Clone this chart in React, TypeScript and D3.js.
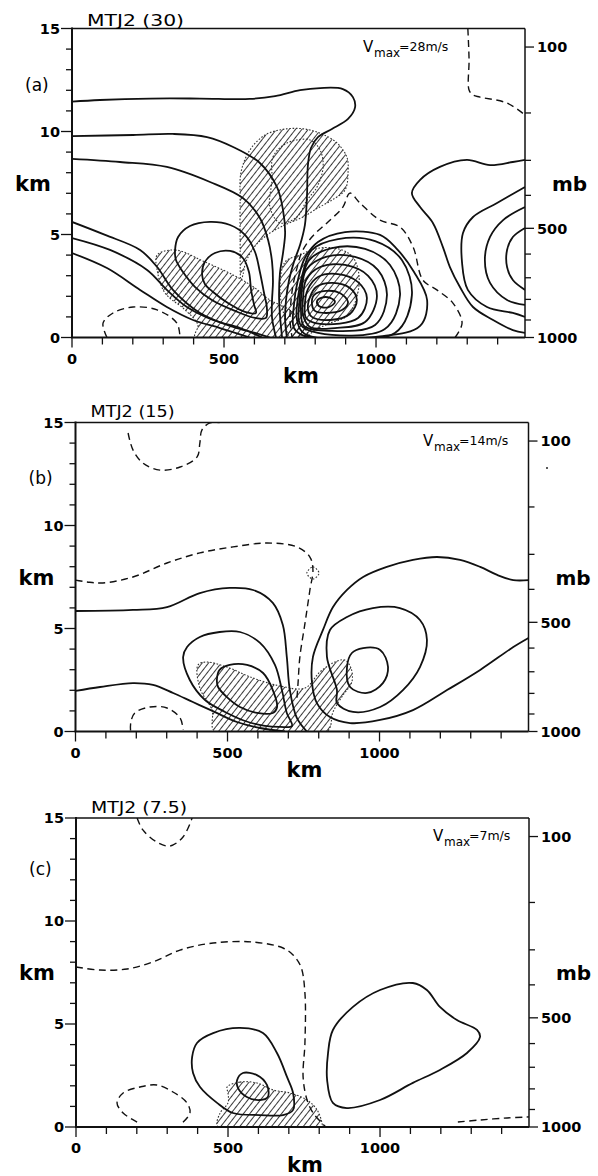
import React from 'react';
import * as d3 from 'd3';

type P = [number, number];

// ---------- axes ----------
const kmTicks = [0, 100, 200, 300, 400, 500, 600, 700, 800, 900, 1000, 1100, 1200, 1300, 1400];
const kmLabels = [0, 500, 1000];
const zTicks = [0, 1, 2, 3, 4, 5, 6, 7, 8, 9, 10, 11, 12, 13, 14, 15];
const zLabels = [0, 5, 10, 15];
const mbLevels = [100, 200, 300, 400, 500, 600, 700, 800, 900, 1000];
const mbHeightKm = [14.1, 10.9, 8.6, 6.9, 5.3, 4.05, 2.9, 1.85, 0.85, 0];
const mbLabels = [100, 500, 1000];

const panelTitles = ['MTJ2 (30)', 'MTJ2 (15)', 'MTJ2 (7.5)'];
const panelLetters = ['(a)', '(b)', '(c)'];
const vmaxValues = ['=28m/s', '=14m/s', '=7m/s'];

// ---------- panel (a) ----------
const a_solid1: P[] = [[0,11.45],[92,11.53],[257,11.6],[421,11.6],[585,11.58],[668,11.72],[750,12.01],[816,12.11],[891,12.06],[924,11.67],[931,11.17],[908,10.61],[855,10.12],[809,9.73],[786,9.2],[776,8.37],[773,6.92],[766,5.46],[750,4.49],[730,3.67],[714,2.79],[704,1.82],[701,0.85],[707,0]];
const a_solid2: P[] = [[0,9.78],[201,9.83],[332,9.88],[444,9.73],[530,9.25],[618,8.47],[674,7.31],[694,6.19],[701,5.07],[694,4.1],[684,3.13],[681,2.06],[684,1.09],[691,0]];
const a_solid3: P[] = [[0,8.67],[158,8.52],[312,8.28],[454,7.55],[562,6.77],[618,5.8],[645,4.73],[658,3.67],[661,2.69],[658,1.82],[658,0.95],[671,0]];
const a_u1: P[] = [[339,4.25],[349,4.88],[388,5.41],[454,5.61],[520,5.46],[569,4.98],[602,4.15],[618,3.18],[631,2.21],[641,1.43],[638,0.95],[602,0.95],[536,1.29],[460,1.82],[405,2.45],[365,3.18],[342,3.76]];
const a_u2: P[] = [[428,3.03],[437,3.67],[470,4.1],[520,4.2],[562,3.86],[582,3.18],[589,2.31],[599,1.58],[605,1.19],[569,1.24],[513,1.67],[464,2.21],[437,2.6]];
const a_s1: P[] = [[0,5.61],[109,4.98],[224,4.25],[280,3.42],[332,2.31],[421,1.19],[530,0.51],[602,0.22],[651,0]];
const a_s2: P[] = [[0,4.83],[125,4.25],[247,3.28],[312,2.31],[378,1.48],[464,0.85],[553,0.46],[625,0]];
const a_s3: P[] = [[0,4.1],[115,3.37],[224,2.31],[312,1.48],[398,0.85],[487,0.46],[585,0]];
const a_e1: P[] = [[865,1.72],[849,1.92],[822,1.94],[806,1.77],[812,1.53],[842,1.46]];
const a_e2: P[] = [[908,1.72],[881,2.16],[835,2.26],[796,2.06],[789,1.67],[799,1.29],[835,1.19],[888,1.33]];
const a_e3: P[] = [[937,1.82],[914,2.4],[858,2.65],[803,2.45],[783,1.97],[776,1.38],[789,1.0],[849,0.85],[914,1.14]];
const a_e4: P[] = [[970,1.92],[941,2.69],[875,3.08],[809,2.94],[776,2.35],[766,1.63],[770,0.95],[816,0.66],[941,0.95]];
const a_e5: P[] = [[1003,2.01],[974,2.99],[898,3.52],[816,3.42],[770,2.79],[760,1.92],[760,1.09],[783,0.51],[865,0.46],[964,0.75]];
const a_e6: P[] = [[1036,2.06],[1006,3.28],[931,3.91],[835,3.91],[770,3.28],[756,2.31],[753,1.33],[763,0.56],[849,0.32],[997,0.61]];
const a_e7: P[] = [[1079,2.06],[1046,3.52],[964,4.3],[855,4.34],[780,3.76],[756,2.69],[747,1.58],[750,0.66],[809,0.22],[1029,0.41]];
const a_e8: P[] = [[1118,2.06],[1085,3.76],[997,4.68],[875,4.78],[789,4.25],[760,3.18],[743,1.92],[740,0.85],[766,0.17],[1062,0.22]];
const a_e9: P[] = [[1168,1.82],[1125,3.18],[1066,4.34],[1013,4.98],[898,5.12],[809,4.64],[766,3.86],[743,2.79],[730,1.58],[730,0.46],[766,0.07],[1013,0.05],[1145,0.56]];
const a_r1: P[] = [[1490,8.62],[1450,8.52],[1375,8.37],[1299,8.62],[1210,8.28],[1145,7.65],[1118,7.01],[1145,6.33],[1187,5.56],[1220,4.39],[1243,3.42],[1276,2.45],[1319,1.48],[1385,0.85],[1450,0.36],[1490,0.22]];
const a_r2: P[] = [[1490,7.31],[1398,6.53],[1319,5.85],[1286,5.07],[1283,3.62],[1302,2.31],[1365,1.48],[1450,1.19],[1490,1.0]];
const a_r3: P[] = [[1490,6.33],[1418,5.7],[1375,4.88],[1358,3.76],[1375,2.65],[1431,1.82],[1490,1.58]];
const a_r4: P[] = [[1490,5.32],[1450,4.88],[1431,4.25],[1431,3.42],[1450,2.79],[1490,2.31]];
const a_dash0: P[] = [[1260,0],[1283,0.7],[1253,1.67],[1200,2.31],[1154,2.79],[1122,4.39],[1079,5.36],[1013,5.7],[947,6.53],[914,7.01],[891,6.33],[842,5.61],[789,4.88],[756,4.15],[740,3.37],[727,2.55],[720,1.72],[717,0.85],[724,0]];
const a_dashTop: P[] = [[1302,15],[1306,13.5],[1306,12.01],[1319,11.77],[1342,11.67],[1431,11.38],[1490,10.8]];
const a_dashLow: P[] = [[115,0],[102,0.7],[135,1.19],[201,1.48],[280,1.34],[345,0.7],[355,0]];
const a_hatch1: P[] = [[556,2.79],[553,4.73],[553,6.67],[556,8.03],[585,9.1],[635,9.83],[701,10.12],[766,10.12],[822,9.88],[872,9.44],[904,8.76],[908,7.99],[898,7.16],[855,6.67],[809,6.29],[760,5.85],[707,5.51],[651,5.07],[602,4.44],[572,3.67],[562,3.03]];
const a_hatch1in: P[] = [[658,7.65],[661,8.76],[707,9.44],[783,9.59],[816,9.1],[826,8.28],[806,7.31],[773,6.67],[740,5.85],[684,5.56],[651,6.33]];
const a_hatch2: P[] = [[280,4.0],[339,4.25],[437,3.67],[536,2.99],[602,2.4],[651,1.82],[717,1.33],[750,0.75],[776,0],[405,0],[414,0.61],[372,1.34],[306,2.16],[280,3.28]];
const a_hatch3: P[] = [[701,3.67],[750,4.0],[799,4.3],[865,4.34],[921,3.95],[944,3.03],[934,1.82],[904,1.04],[849,0.7],[799,0.36],[766,0],[717,0],[701,0.85],[684,2.31]];

// ---------- panel (b) ----------
const b_dashTop: P[] = [[173,14.49],[189,13.67],[222,13.03],[278,12.69],[344,12.84],[400,13.33],[409,14.0],[416,14.64],[442,14.98],[474,15]];
const b_dashLong: P[] = [[0,7.35],[38,7.26],[90,7.21],[189,7.5],[301,8.18],[409,8.67],[518,8.96],[630,9.15],[728,8.96],[771,8.47],[781,7.84],[771,6.87],[755,5.27],[738,3.62],[732,2.35],[728,1.53]];
const b_dashRing: P[] = [[761,7.69],[781,7.99],[801,7.69],[781,7.4]];
const b_dashLow: P[] = [[181,0.05],[182,0.45],[195,0.9],[245,1.19],[301,1.14],[344,0.66],[354,0.07]];
const b_s1: P[] = [[0,5.85],[189,5.9],[301,6.04],[409,6.72],[507,6.97],[584,6.87],[649,6.24],[682,5.17],[695,3.62],[705,2.01],[728,0.66],[761,0]];
const b_s2: P[] = [[0,1.97],[81,2.16],[189,2.35],[255,2.26],[321,1.87],[386,1.43],[452,0.99],[531,0.46],[607,0.17],[689,0]];
const b_s3: P[] = [[354,3.62],[367,4.1],[409,4.59],[474,4.83],[541,4.83],[607,4.3],[656,3.23],[679,2.01],[695,0.9],[712,0.27],[673,0.22],[623,0.27],[558,0.51],[492,0.95],[426,1.53],[376,2.5]];
const b_s4: P[] = [[465,2.5],[474,2.99],[507,3.23],[564,3.23],[617,2.84],[649,2.01],[663,1.19],[649,0.9],[597,0.9],[541,1.19],[498,1.67],[469,2.16]];
const b_r1: P[] = [[1490,7.35],[1440,7.35],[1387,7.6],[1331,7.99],[1265,8.33],[1189,8.47],[1110,8.33],[1024,7.99],[946,7.5],[893,6.87],[847,6.04],[814,4.93],[781,3.62],[778,2.35],[794,1.38],[837,0.7],[903,0.41],[1002,0.56],[1110,1.04],[1222,2.01],[1331,2.99],[1440,4.1],[1490,4.54]];
const b_r2: P[] = [[860,2.01],[827,3.62],[837,4.93],[893,5.56],[978,5.99],[1067,5.99],[1133,5.41],[1156,4.44],[1133,3.13],[1077,2.01],[1002,1.19],[913,0.95],[860,1.38]];
const b_r3: P[] = [[893,3.13],[909,3.81],[946,4.05],[1002,3.96],[1028,3.13],[1011,2.35],[959,1.87],[903,2.16]];
const b_hatch: P[] = [[403,3.23],[432,3.37],[507,3.08],[574,2.65],[673,2.21],[755,2.11],[804,2.89],[853,3.37],[886,3.47],[906,3.08],[909,2.4],[880,1.77],[847,0.95],[827,0],[458,0],[449,1.04],[409,2.11]];

// ---------- panel (c) ----------
const c_dashTop: P[] = [[201,15],[220,14.42],[266,13.83],[309,13.64],[352,14.08],[382,15]];
const c_dashLong: P[] = [[0,7.77],[79,7.62],[168,7.67],[253,8.01],[342,8.59],[451,8.93],[582,8.98],[681,8.69],[714,8.35],[740,7.77],[753,6.5],[753,4.08],[747,2.43],[760,1.31],[780,0.68],[809,0.19],[822,0]];
const c_dashLow: P[] = [[201,0.24],[155,0.68],[135,1.17],[155,1.65],[210,1.94],[266,2.04],[319,1.7],[365,1.17],[375,0.68],[349,0.19]];
const c_dashRight: P[] = [[1256,0.24],[1329,0.34],[1418,0.44],[1490,0.49]];
const c_s1: P[] = [[382,3.4],[398,4.08],[451,4.56],[539,4.81],[615,4.56],[661,3.59],[694,2.43],[714,1.65],[714,0.83],[681,0.58],[605,0.58],[516,0.68],[464,1.17],[408,1.94],[385,2.62]];
const c_s2: P[] = [[530,2.28],[549,2.62],[595,2.52],[628,2.04],[631,1.46],[605,1.31],[562,1.46],[533,1.89]];
const c_s3: P[] = [[845,4.71],[911,5.83],[1000,6.65],[1108,6.99],[1154,6.65],[1197,5.83],[1253,5.19],[1319,4.71],[1329,4.37],[1286,3.59],[1197,2.77],[1108,2.14],[1000,1.31],[891,0.92],[845,1.17],[826,2.28],[829,3.59]];
const c_hatch: P[] = [[497,1.94],[539,2.18],[595,2.14],[648,1.8],[704,1.65],[760,1.31],[793,0.83],[809,0.19],[809,0],[467,0],[474,0.68],[500,1.17],[500,1.65]];

type Kind = 'solid' | 'dashed' | 'dot';
type C = { pts: P[]; kind: Kind; closed?: boolean; hatch?: boolean };

const panelA: C[] = [
  { pts: a_hatch1, kind: 'dot', closed: true, hatch: true },
  { pts: a_hatch2, kind: 'dot', closed: true, hatch: true },
  { pts: a_hatch3, kind: 'dot', closed: true, hatch: true },
  { pts: a_hatch1in, kind: 'dot', closed: true },
  { pts: a_solid1, kind: 'solid' }, { pts: a_solid2, kind: 'solid' }, { pts: a_solid3, kind: 'solid' },
  { pts: a_u1, kind: 'solid', closed: true }, { pts: a_u2, kind: 'solid', closed: true },
  { pts: a_s1, kind: 'solid' }, { pts: a_s2, kind: 'solid' }, { pts: a_s3, kind: 'solid' },
  { pts: a_e1, kind: 'solid', closed: true }, { pts: a_e2, kind: 'solid', closed: true },
  { pts: a_e3, kind: 'solid', closed: true }, { pts: a_e4, kind: 'solid', closed: true },
  { pts: a_e5, kind: 'solid', closed: true }, { pts: a_e6, kind: 'solid', closed: true },
  { pts: a_e7, kind: 'solid', closed: true }, { pts: a_e8, kind: 'solid', closed: true },
  { pts: a_e9, kind: 'solid', closed: true },
  { pts: a_r1, kind: 'solid' }, { pts: a_r2, kind: 'solid' }, { pts: a_r3, kind: 'solid' }, { pts: a_r4, kind: 'solid' },
  { pts: a_dash0, kind: 'dashed' }, { pts: a_dashTop, kind: 'dashed' }, { pts: a_dashLow, kind: 'dashed' },
];
const panelB: C[] = [
  { pts: b_hatch, kind: 'dot', closed: true, hatch: true },
  { pts: b_dashTop, kind: 'dashed' }, { pts: b_dashLong, kind: 'dashed' },
  { pts: b_dashRing, kind: 'dot', closed: true }, { pts: b_dashLow, kind: 'dashed' },
  { pts: b_s1, kind: 'solid' }, { pts: b_s2, kind: 'solid' },
  { pts: b_s3, kind: 'solid', closed: true }, { pts: b_s4, kind: 'solid', closed: true },
  { pts: b_r1, kind: 'solid' }, { pts: b_r2, kind: 'solid', closed: true }, { pts: b_r3, kind: 'solid', closed: true },
];
const panelC: C[] = [
  { pts: c_hatch, kind: 'dot', closed: true, hatch: true },
  { pts: c_dashTop, kind: 'dashed' }, { pts: c_dashLong, kind: 'dashed' },
  { pts: c_dashLow, kind: 'dashed' }, { pts: c_dashRight, kind: 'dashed' },
  { pts: c_s1, kind: 'solid', closed: true }, { pts: c_s2, kind: 'solid', closed: true },
  { pts: c_s3, kind: 'solid', closed: true },
];
const panelContours = [panelA, panelB, panelC];

// layout (pixels)
const PW = 453, PH = 309;
const layout = [
  { left: 72, top: 28.5, titleDy: -2.5, titleW: 97, letterDy: 62.5, vmaxX: 363 },
  { left: 75.5, top: 422.5, titleDy: -5.5, titleW: 84, letterDy: 61.5, vmaxX: 423 },
  { left: 76, top: 818, titleDy: -5, titleW: 96, letterDy: 57, vmaxX: 433 },
];

const FONT = '"DejaVu Sans", "Open Sans", sans-serif';

function Panel({ i }: { i: number }) {
  const L = layout[i];
  const x = d3.scaleLinear().domain([0, 1490]).range([L.left, L.left + PW]);
  const y = d3.scaleLinear().domain([0, 15]).range([L.top + PH, L.top]);
  const x0 = L.left, x1 = L.left + PW, y0 = L.top + PH, y1 = L.top;
  const clipId = `clip${i}`;
  const path = (c: C) =>
    d3.line<P>().x(d => x(d[0])).y(d => y(d[1]))
      .curve(c.closed ? d3.curveCatmullRomClosed.alpha(0.5) : d3.curveCatmullRom.alpha(0.5))(c.pts) || '';
  const conts = panelContours[i];
  return (
    <g>
      <defs>
        <clipPath id={clipId}><rect x={x0} y={y1} width={PW} height={PH} /></clipPath>
      </defs>
      <g clipPath={`url(#${clipId})`}>
        {conts.filter(c => c.hatch).map((c, k) => (
          <path key={'h' + k} d={path(c)} fill="url(#hatch)" stroke="none" />
        ))}
        {conts.map((c, k) => (
          <path key={k} d={path(c)} fill="none"
            stroke={c.kind === 'dot' ? '#333' : '#111'}
            strokeWidth={c.kind === 'solid' ? 1.8 : c.kind === 'dashed' ? 1.4 : 1.1}
            strokeDasharray={c.kind === 'dashed' ? '7 4.5' : c.kind === 'dot' ? '1.6 1.7' : undefined}
            strokeLinejoin="round" />
        ))}
      </g>
      {/* frame */}
      <line x1={x0} y1={y1} x2={x1} y2={y1} stroke="#111" strokeWidth={1.4} />
      <line x1={x1} y1={y1} x2={x1} y2={y0} stroke="#111" strokeWidth={1.5} />
      <line x1={x0} y1={y1 - 1} x2={x0} y2={y0} stroke="#111" strokeWidth={2} />
      <line x1={x0 - 1} y1={y0} x2={x1} y2={y0} stroke="#111" strokeWidth={2} />
      {/* left ticks */}
      {zTicks.map(t => {
        const major = zLabels.includes(t);
        return <line key={'zt' + t} x1={x0} x2={x0 - (major ? 11 : 6)} y1={y(t)} y2={y(t)} stroke="#111" strokeWidth={1.3} />;
      })}
      {zLabels.map(t => (
        <text key={'zl' + t} x={x0 - 12} y={y(t)} dy="0.36em" textAnchor="end"
          fontFamily={FONT} fontWeight="bold" fontSize={14.5}>{t}</text>
      ))}
      {/* bottom ticks */}
      {kmTicks.map(t => {
        const major = kmLabels.includes(t);
        return <line key={'xt' + t} x1={x(t)} x2={x(t)} y1={y0} y2={y0 + (major ? 10 : 7)} stroke="#111" strokeWidth={1.3} />;
      })}
      {kmLabels.map(t => (
        <text key={'xl' + t} x={x(t)} y={y0 + 26} textAnchor="middle"
          fontFamily={FONT} fontWeight="bold" fontSize={14.5}>{t}</text>
      ))}
      {/* right pressure ticks */}
      {mbLevels.map((p, k) => {
        const lab = mbLabels.includes(p);
        return <line key={'pt' + p} x1={x1} x2={x1 + (lab ? 9 : 6)} y1={y(mbHeightKm[k])} y2={y(mbHeightKm[k])} stroke="#111" strokeWidth={1.3} />;
      })}
      {mbLevels.map((p, k) => mbLabels.includes(p) ? (
        <text key={'pl' + p} x={x1 + 12} y={y(mbHeightKm[k])} dy="0.36em"
          fontFamily={FONT} fontWeight="bold" fontSize={14.5}>{p}</text>
      ) : null)}
      {/* axis titles */}
      <text x={x0 - 57} y={y1 + 162} fontFamily={FONT} fontWeight="bold" fontSize={21}>km</text>
      <text x={x1 + 27} y={y1 + 162} fontFamily={FONT} fontWeight="bold" fontSize={20}>mb</text>
      <text x={x0 + 229} y={y0 + 45} textAnchor="middle" fontFamily={FONT} fontWeight="bold" fontSize={21}>km</text>
      {/* title, letter, vmax */}
      <text x={x0 + 15} y={y1 + L.titleDy} fontFamily={FONT} fontSize={16}
        textLength={L.titleW} lengthAdjust="spacingAndGlyphs">{panelTitles[i]}</text>
      <text x={x0 - 47} y={y1 + L.letterDy} fontFamily={FONT} fontSize={17}>{panelLetters[i]}</text>
      <text x={L.vmaxX} y={y1 + 23} fontFamily={FONT} fontSize={15}>V</text>
      <text x={L.vmaxX + 11} y={y1 + 28} fontFamily={FONT} fontSize={12}>max</text>
      <text x={L.vmaxX + 36} y={y1 + 22} fontFamily={FONT} fontSize={12.5}>{vmaxValues[i]}</text>
    </g>
  );
}

export default function App() {
  return (
    <svg width={598} height={1176} style={{ position: 'absolute', left: 0, top: 0, background: '#fff' }}>
      <defs>
        <pattern id="hatch" patternUnits="userSpaceOnUse" width={5} height={10} patternTransform="rotate(38)">
          <line x1={2.5} y1={0} x2={2.5} y2={10} stroke="#222" strokeWidth={0.9} />
        </pattern>
      </defs>
      <rect x={0} y={0} width={598} height={1176} fill="#fff" />
      <Panel i={0} />
      <Panel i={1} />
      <Panel i={2} />
      <circle cx={547} cy={468} r={1} fill="#222" />
    </svg>
  );
}
